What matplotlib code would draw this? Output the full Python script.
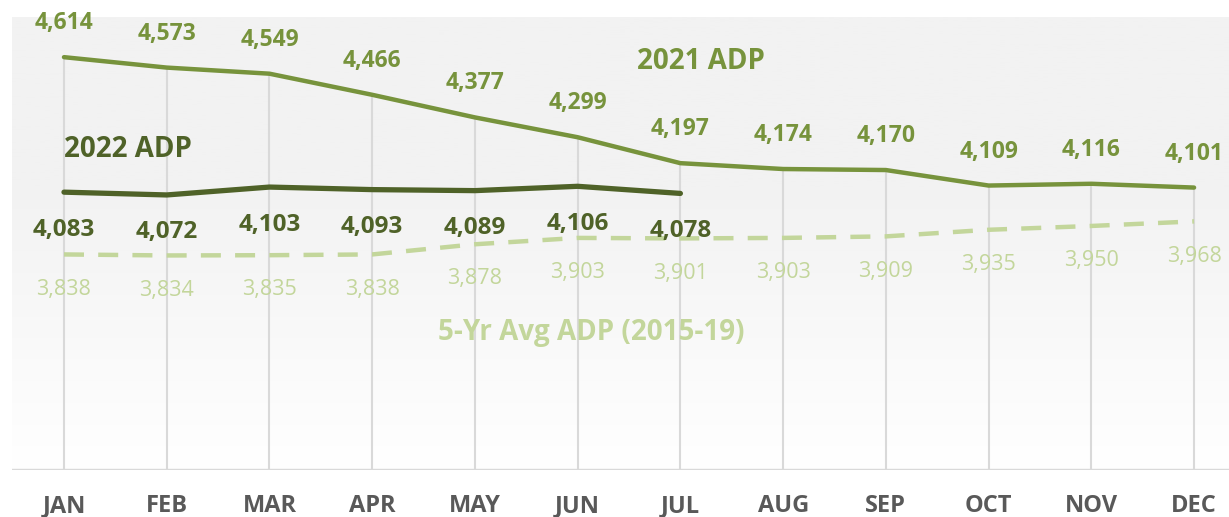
import matplotlib
matplotlib.use("Agg")
import matplotlib.pyplot as plt
import numpy as np
from matplotlib.colors import LinearSegmentedColormap

plt.rcParams['font.family'] = ['Open Sans', 'DejaVu Sans']

months = ['JAN', 'FEB', 'MAR', 'APR', 'MAY', 'JUN', 'JUL', 'AUG', 'SEP', 'OCT', 'NOV', 'DEC']
adp_2021 = [4614, 4573, 4549, 4466, 4377, 4299, 4197, 4174, 4170, 4109, 4116, 4101]
adp_2022 = [4083, 4072, 4103, 4093, 4089, 4106, 4078]
avg_5yr = [3838, 3834, 3835, 3838, 3878, 3903, 3901, 3903, 3909, 3935, 3950, 3968]

c21 = '#77933c'
c22 = '#4f6228'
c5 = '#c3d69b'
grid_c = '#d9d9d9'

fig = plt.figure(figsize=(12.29, 5.17), dpi=100)
# axes box in pixels: left 12, right 1229, top 17, bottom 469.5
ax = fig.add_axes([12 / 1229, (517 - 469.5) / 517, 1217 / 1229, 452.5 / 517])

x = np.arange(len(months))
ymin, ymax = 2992, 4772
ax.set_xlim(-0.506, 11.34)
ax.set_ylim(ymin, ymax)

# background gradient: white at top, light gray lower down
grad = np.clip(np.linspace(0, 1.6, 256), 0, 1)[:, None]
cmap = LinearSegmentedColormap.from_list('bg', ['#ffffff', '#f2f2f2'])
ax.imshow(grad, cmap=cmap, aspect='auto', extent=[-0.506, 11.34, ymax, ymin],
          origin='upper', zorder=0)
ax.set_ylim(ymin, ymax)

# drop lines from 2021 series to the axis
ax.vlines(x, ymin, adp_2021, colors=grid_c, linewidth=1.5, zorder=1)
ax.axhline(ymin, color=grid_c, linewidth=2.5, zorder=1)

ax.plot(x, avg_5yr, color=c5, linewidth=3.2, dashes=(4.5, 3.2), zorder=2)
ax.plot(x, adp_2021, color=c21, linewidth=3.2, solid_capstyle='round',
        solid_joinstyle='round', zorder=3)
ax.plot(x[:len(adp_2022)], adp_2022, color=c22, linewidth=3.8,
        solid_capstyle='round', solid_joinstyle='round', zorder=4)

for xi, v in zip(x, adp_2021):
    ax.annotate(f'{v:,}', (xi, v), xytext=(0, 24.5), textcoords='offset points',
                ha='center', va='center', fontsize=16.5, fontweight='bold', color=c21)
for xi, v in zip(x, adp_2022):
    ax.annotate(f'{v:,}', (xi, v), xytext=(0, -27), textcoords='offset points',
                ha='center', va='center', fontsize=17.5, fontweight='bold', color=c22)
for xi, v in zip(x, avg_5yr):
    ax.annotate(f'{v:,}', (xi, v), xytext=(0, -25), textcoords='offset points',
                ha='center', va='center', fontsize=15.5, color=c5)

# series names
ax.text(6.2, 4596, '2021 ADP', ha='center', va='center', fontsize=20,
        fontweight='bold', color=c21)
ax.text(0, 4250, '2022 ADP', ha='left', va='center', fontsize=20,
        fontweight='bold', color=c22)
ax.text(5.13, 3530, '5-Yr Avg ADP (2015-19)', ha='center', va='center', fontsize=20,
        fontweight='bold', color=c5)

ax.set_xticks(x)
ax.set_xticklabels(months, fontsize=17, fontweight='bold', color='#595959')
ax.tick_params(axis='x', length=0, pad=18)
ax.set_yticks([])
for s in ax.spines.values():
    s.set_visible(False)

fig.savefig('out.png', dpi=100, facecolor='white')
